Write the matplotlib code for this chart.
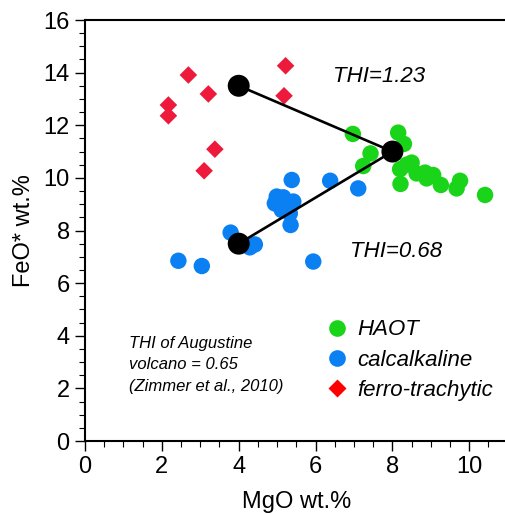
import matplotlib
matplotlib.use("Agg")
import matplotlib.pyplot as plt
from matplotlib.lines import Line2D
from matplotlib.ticker import MultipleLocator

plt.rcParams['font.family'] = ['Liberation Sans', 'DejaVu Sans']

# HAOT (green circles)
haot_mgo = [6.97, 8.15, 8.30, 7.43, 7.24, 8.20, 8.50, 8.37, 8.63, 8.85, 9.06, 8.89, 8.21, 9.26, 9.76, 9.67, 10.41]
haot_feo = [11.67, 11.72, 11.29, 10.93, 10.45, 10.33, 10.58, 10.50, 10.17, 10.20, 10.11, 9.98, 9.77, 9.73, 9.89, 9.60, 9.35]

# calcalkaline (blue circles)
calc_mgo = [5.38, 6.38, 7.11, 4.94, 5.16, 5.42, 5.12, 5.33, 5.35, 4.99, 3.79, 4.42, 4.29, 2.43, 3.04, 5.94]
calc_feo = [9.92, 9.89, 9.60, 9.03, 9.26, 9.10, 8.78, 8.65, 8.21, 9.29, 7.92, 7.47, 7.36, 6.85, 6.65, 6.82]

# ferro-trachytic (red diamonds)
ferro_mgo = [2.69, 3.21, 2.17, 2.17, 3.38, 3.10, 5.22, 5.18]
ferro_feo = [13.91, 13.19, 12.77, 12.36, 11.09, 10.27, 14.26, 13.12]

# THI trend end-members (black)
thi_high_mgo = [4.0, 8.0]
thi_high_feo = [13.5, 11.0]
thi_low_mgo = [4.0, 8.0]
thi_low_feo = [7.5, 11.0]

green = '#19d419'
blue = '#0a80f2'
red = '#ee1a3c'

fig = plt.figure(figsize=(5.06, 5.14), dpi=100)
ax = fig.add_axes([85/506, 73/514, 422.7/506, 421/514])

ax.plot(thi_high_mgo, thi_high_feo, color='black', lw=1.9, zorder=4)
ax.plot(thi_low_mgo, thi_low_feo, color='black', lw=1.9, zorder=4)

ax.scatter(haot_mgo, haot_feo, s=140, color=green, edgecolors='none', zorder=3)
ax.scatter(calc_mgo, calc_feo, s=140, color=blue, edgecolors='none', zorder=3)
ax.scatter(ferro_mgo, ferro_feo, s=80, marker='D', color=red, edgecolors='none', zorder=3)

ax.scatter(thi_high_mgo + thi_low_mgo[:1], thi_high_feo + thi_low_feo[:1], s=250,
           color='black', edgecolors='none', zorder=5)

ax.text(6.45, 13.85, 'THI=1.23', fontsize=16, style='italic', va='center', ha='left')
ax.text(6.9, 7.22, 'THI=0.68', fontsize=16, style='italic', va='center', ha='left')
ax.text(1.15, 2.89, 'THI of Augustine\nvolcano = 0.65\n(Zimmer et al., 2010)',
        fontsize=12, style='italic', va='center', ha='left', linespacing=1.55)

handles = [
    Line2D([], [], ls='none', marker='o', ms=12, color=green, mec='none'),
    Line2D([], [], ls='none', marker='o', ms=12, color=blue, mec='none'),
    Line2D([], [], ls='none', marker='D', ms=9, color='#ff0000', mec='none'),
]
labels = ['HAOT', 'calcalkaline', 'ferro-trachytic']
leg = ax.legend(handles, labels, loc='upper left', bbox_to_anchor=(0.576, 0.2886),
                frameon=False, prop={'size': 16, 'style': 'italic'},
                handlelength=0.8, handletextpad=0.5, labelspacing=0.42,
                borderaxespad=0, borderpad=0)

ax.set_xlim(0, 11)
ax.set_ylim(0, 16)
ax.xaxis.set_major_locator(MultipleLocator(2))
ax.xaxis.set_minor_locator(MultipleLocator(0.5))
ax.yaxis.set_major_locator(MultipleLocator(2))
ax.yaxis.set_minor_locator(MultipleLocator(0.5))
ax.tick_params(which='major', direction='out', length=7, width=1.0, labelsize=17, pad=4)
ax.tick_params(which='minor', direction='out', length=4, width=0.8)
for sp in ax.spines.values():
    sp.set_linewidth(1.5)
ax.spines['right'].set_visible(False)
ax.set_xlabel('MgO wt.%', fontsize=17, labelpad=9)
ax.set_ylabel('FeO* wt.%', fontsize=17, labelpad=6)

fig.savefig('out.png', dpi=100)
